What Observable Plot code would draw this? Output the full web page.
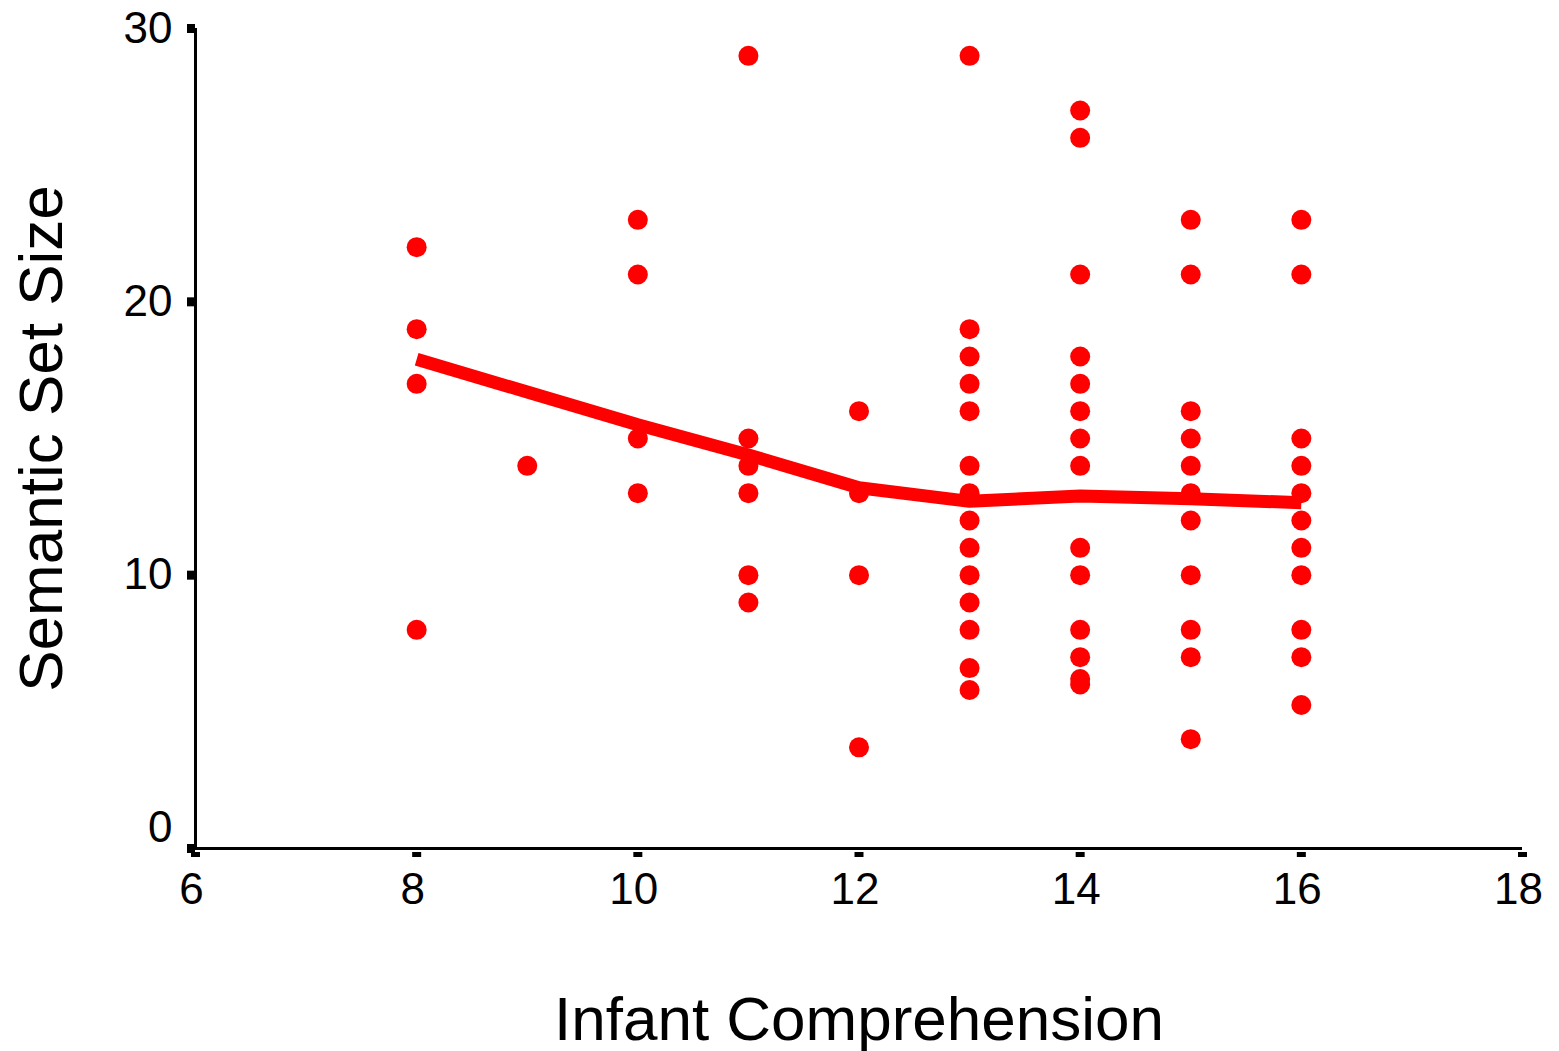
<!DOCTYPE html>
<html>
<head>
<meta charset="utf-8">
<script src="https://cdn.jsdelivr.net/npm/d3@7"></script>
<script src="https://cdn.jsdelivr.net/npm/@observablehq/plot@0.6"></script>
<style>
  html, body { margin: 0; padding: 0; background: #fff; }
</style>
</head>
<body>
<div id="chart"></div>
<script>
// Scatter data: infant comprehension (x) vs semantic set size (y)
const pointX = [
  8, 8, 8, 8,
  9,
  10, 10, 10, 10,
  11, 11, 11, 11, 11, 11,
  12, 12, 12, 12,
  13, 13, 13, 13, 13, 13, 13, 13, 13, 13, 13, 13, 13, 13,
  14, 14, 14, 14, 14, 14, 14, 14, 14, 14, 14, 14, 14, 14,
  15, 15, 15, 15, 15, 15, 15, 15, 15, 15, 15,
  16, 16, 16, 16, 16, 16, 16, 16, 16, 16, 16
];
const pointY = [
  22, 19, 17, 8,
  14,
  23, 21, 15, 13,
  29, 15, 14, 13, 10, 9,
  16, 13, 10, 3.7,
  29, 19, 18, 17, 16, 14, 13, 12, 11, 10, 9, 8, 6.6, 5.8,
  27, 26, 21, 18, 17, 16, 15, 14, 11, 10, 8, 7, 6.2, 6.0,
  23, 21, 16, 15, 14, 13, 12, 10, 8, 7, 4,
  23, 21, 15, 14, 13, 12, 11, 10, 8, 7, 5.25
];
// Mean line
const meanX = [8, 9, 10, 11, 12, 13, 14, 15, 16];
const meanY = [17.9, 16.7, 15.5, 14.4, 13.2, 12.7, 12.9, 12.8, 12.65];

const xTicks = [6, 8, 10, 12, 14, 16, 18];
const yTicks = [0, 10, 20, 30];
const xTitle = "Infant Comprehension";
const yTitle = "Semantic Set Size";

const points = pointX.map((x, i) => ({x, y: pointY[i]}));
const means = meanX.map((x, i) => ({x, y: meanY[i]}));

const chart = Plot.plot({
  width: 1559,
  height: 1051,
  marginLeft: 195,
  marginRight: 37,
  marginTop: 28,
  marginBottom: 203,
  x: {domain: [6, 18]},
  y: {domain: [0, 30]},
  style: {
    fontFamily: "'Liberation Sans', Arial, Helvetica, sans-serif",
    fontSize: "44px",
    background: "#fff",
    color: "#000"
  },
  marks: [
    // axis lines
    Plot.ruleY([0], {stroke: "#000", strokeWidth: 3}),
    Plot.ruleX([6], {stroke: "#000", strokeWidth: 3}),
    // ticks
    Plot.axisX(xTicks, {tickSize: 5, dy: 4, strokeWidth: 9, fill: "none", label: null}),
    Plot.axisY(yTicks, {tickSize: 8, strokeWidth: 9, fill: "none", label: null}),
    // tick labels
    Plot.axisX(xTicks, {tickSize: 0, tickPadding: 24, dx: -4, label: null, fontSize: 44}),
    Plot.axisY(yTicks.filter(d => d !== 0), {tickSize: 0, tickPadding: 23, label: null, fontSize: 44}),
    Plot.axisY(yTicks.filter(d => d === 0), {tickSize: 0, tickPadding: 23, dy: -21, label: null, fontSize: 44}),
    // data
    Plot.dot(points, {x: "x", y: "y", r: 10, fill: "#ff0000", stroke: "none"}),
    Plot.line(means, {x: "x", y: "y", stroke: "#ff0000", strokeWidth: 13, strokeLinecap: "butt", strokeLinejoin: "miter"}),
    // axis titles
    Plot.text([xTitle], {frameAnchor: "bottom", dy: 191, fontSize: 62, fill: "#000"}),
    Plot.text([yTitle], {frameAnchor: "left", textAnchor: "middle", dx: -153, rotate: -90, fontSize: 62, fill: "#000"})
  ]
});
document.getElementById("chart").appendChild(chart);
</script>
</body>
</html>
